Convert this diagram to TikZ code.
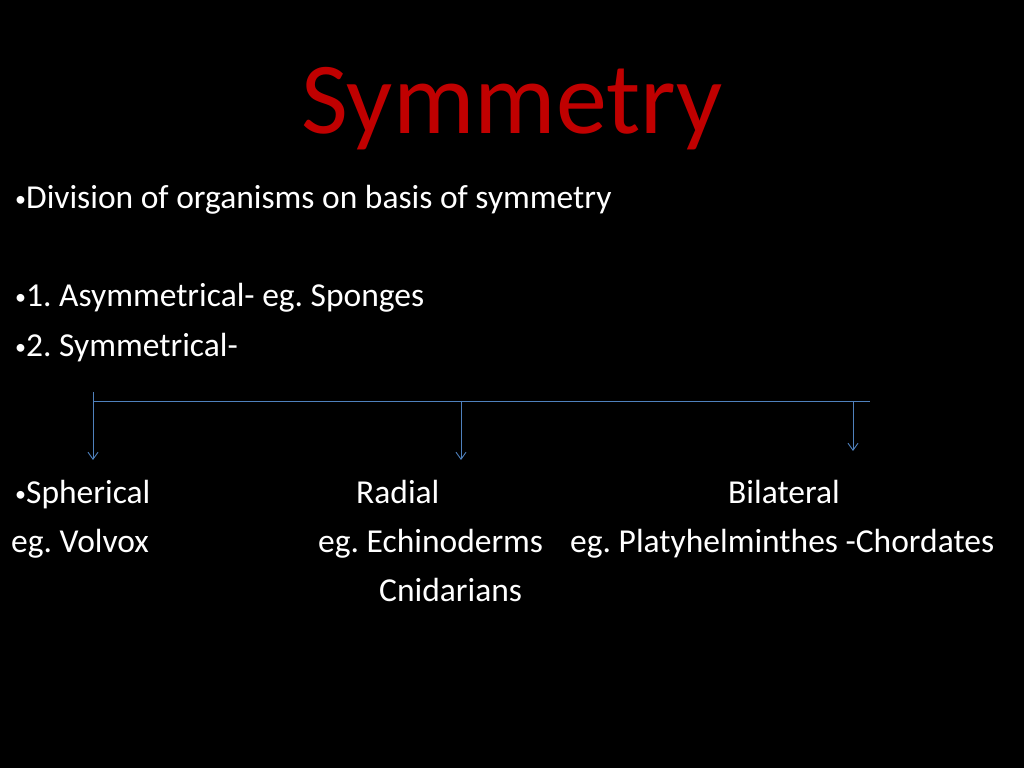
\documentclass[tikz,border=0pt]{standalone}
\usepackage{fontspec}
\setmainfont{Carlito}
\frenchspacing
\usetikzlibrary{arrows.meta}
\definecolor{titlered}{HTML}{C00000}
\definecolor{linkblue}{HTML}{4F81BD}
\tikzset{
  txt/.style={anchor=base west,inner sep=0pt,text=white,font=\fontsize{33.5}{40}\selectfont},
  link/.style={draw=linkblue,line width=0.9pt,-{Straight Barb[length=7pt,width=10pt]}}
}
\newcommand{\smallbullet}{{\fontsize{22}{22}\selectfont\raisebox{2pt}{•}}}
\begin{document}
\begin{tikzpicture}[x=1pt,y=1pt]
\fill[black] (0,0) rectangle (1024,768);
\useasboundingbox (0,0) rectangle (1024,768);
\node[anchor=base,inner sep=0pt,text=titlered,font=\fontsize{102}{110}\selectfont] (title) at (512,634) {Symmetry};
\node[txt] (intro) at (15,559) {\smallbullet Division of organisms on basis of symmetry};
\node[txt] (asym) at (15,461) {\smallbullet 1. Asymmetrical- eg. Sponges};
\node[txt] (sym) at (15,411) {\smallbullet 2. Symmetrical-};
% branches
\coordinate (top) at (93,376);
\coordinate (left) at (93,367);
\coordinate (mid) at (461,367);
\coordinate (right) at (853,367);
\coordinate (end) at (870,367);
\draw[linkblue,line width=0.9pt] (top) -- (left) -- (end);
\coordinate (sph) at (93,308);
\coordinate (rad) at (461,308);
\coordinate (bil) at (853,317);
\draw[link] (left) -- (sph);
\draw[link] (mid) -- (rad);
\draw[link] (right) -- (bil);
\node[txt] (spherical) at (15,264) {\smallbullet Spherical};
\node[txt] (volvox) at (11,215) {eg. Volvox};
\node[txt] (radial) at (356,264) {Radial};
\node[txt] (echino) at (318,215) {eg. Echinoderms};
\node[txt] (cnid) at (379,166) {Cnidarians};
\node[txt] (bilateral) at (728,264) {Bilateral};
\node[txt] (platy) at (570,215) {eg. Platyhelminthes -Chordates};
\end{tikzpicture}
\end{document}
